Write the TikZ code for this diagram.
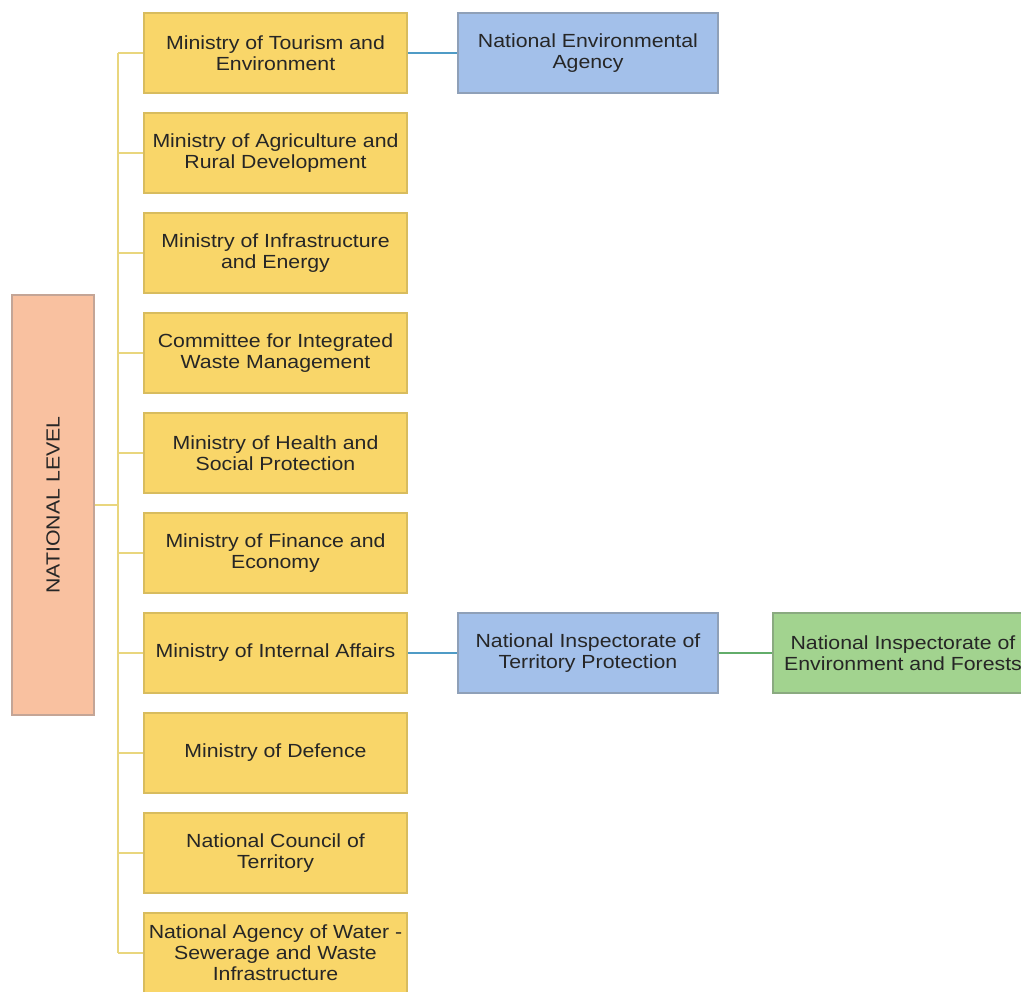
\documentclass[tikz,border=0pt]{standalone}
\usepackage{fontspec}
\setmainfont[FakeStretch=1.12]{Liberation Sans}
\begin{document}
\begin{tikzpicture}[x=1pt,y=-1pt,
  base/.style={draw, line width=1.2pt, minimum width=263pt, minimum height=80pt, align=center, inner sep=2pt, font=\fontsize{19}{21}\selectfont, text=black!85},
  ybox/.style={base, fill=yellowfill, draw=yellowline},
  bbox/.style={base, fill=bluefill, draw=blueline, minimum width=260pt},
  gbox/.style={base, fill=greenfill, draw=greenline, minimum width=260pt},
  ylink/.style={draw=ylinkc, line width=1.2pt},
  blink/.style={draw=blinkc, line width=2pt},
  glink/.style={draw=glinkc, line width=2pt}]
\definecolor{yellowfill}{HTML}{F9D669}
\definecolor{yellowline}{HTML}{D8BC5E}
\definecolor{bluefill}{HTML}{A3C0EA}
\definecolor{blueline}{HTML}{8FA0B8}
\definecolor{greenfill}{HTML}{A2D38F}
\definecolor{greenline}{HTML}{8AAA80}
\definecolor{orangefill}{HTML}{F9C1A0}
\definecolor{orangeline}{HTML}{C4A596}
\definecolor{ylinkc}{HTML}{E9D67E}
\definecolor{blinkc}{HTML}{4F9BC6}
\definecolor{glinkc}{HTML}{62AD6A}
\useasboundingbox[fill=white] (0,0) rectangle (1021,992);

\node[draw=orangeline, fill=orangefill, line width=1.2pt, minimum width=82pt, minimum height=420pt, inner sep=0pt] (nl) at (53,505) {};
\node[rotate=90, font=\fontsize{19}{21}\selectfont, text=black!85] (nltext) at (nl.center) {NATIONAL LEVEL};

\node[ybox] (m1) at (275.5,53) {Ministry of Tourism and\\Environment};
\node[ybox] (m2) at (275.5,153) {Ministry of Agriculture and\\Rural Development};
\node[ybox] (m3) at (275.5,253) {Ministry of Infrastructure\\and Energy};
\node[ybox] (m4) at (275.5,353) {Committee for Integrated\\Waste Management};
\node[ybox] (m5) at (275.5,453) {Ministry of Health and\\Social Protection};
\node[ybox] (m6) at (275.5,553) {Ministry of Finance and\\Economy};
\node[ybox] (m7) at (275.5,653) {Ministry of Internal Affairs};
\node[ybox] (m8) at (275.5,753) {Ministry of Defence};
\node[ybox] (m9) at (275.5,853) {National Council of\\Territory};
\node[ybox] (m10) at (275.5,953) {National Agency of Water -\\Sewerage and Waste\\Infrastructure};

\node[bbox] (nea) at (588,53) {National Environmental\\Agency};
\node[bbox] (nitp) at (588,653) {National Inspectorate of\\Territory Protection};
\node[gbox] (nief) at (903,653) {National Inspectorate of\\Environment and Forests};

\coordinate (vtop) at (118,53);
\coordinate (vbot) at (118,953);
\coordinate (vmid) at (118,505);
\draw[ylink] (vtop) -- (vbot);
\draw[ylink] (nl.east |- vmid) -- (vmid);
\foreach \m in {m1,m2,m3,m4,m5,m6,m7,m8,m9,m10}{
  \draw[ylink] (vtop |- \m.west) -- (\m.west);
}
\draw[blink] (m1.east) -- (nea.west);
\draw[blink] (m7.east) -- (nitp.west);
\draw[glink] (nitp.east) -- (nief.west);
\end{tikzpicture}
\end{document}
